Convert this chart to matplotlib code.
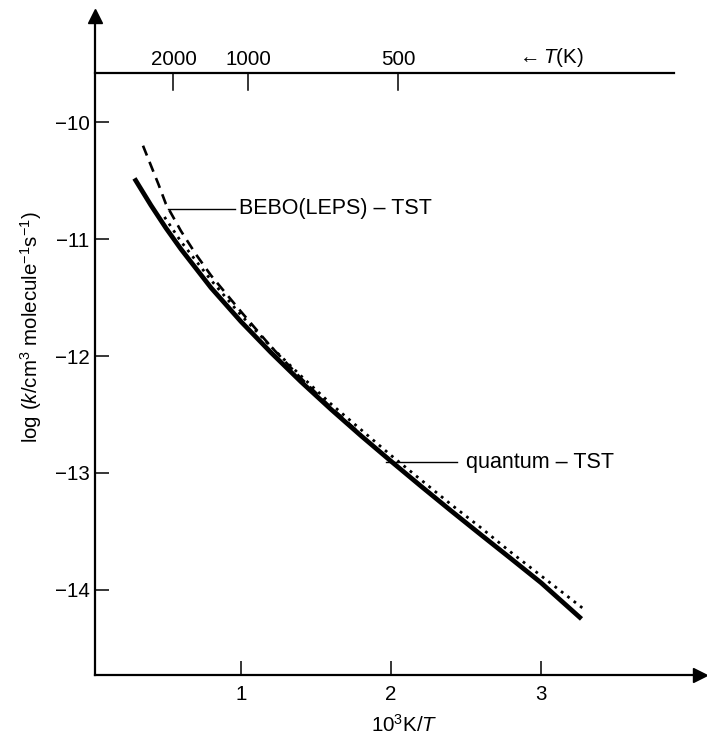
import numpy as np
import matplotlib.pyplot as plt

plt.rcParams['font.family'] = ['Liberation Sans', 'DejaVu Sans']
plt.rcParams['mathtext.fontset'] = 'custom'
plt.rcParams['mathtext.rm'] = 'Liberation Sans'
plt.rcParams['mathtext.it'] = 'Liberation Sans:italic'

# quantum - TST (solid)
x_quantum = [0.29, 0.4, 0.5, 0.6, 0.8, 1.0, 1.2, 1.4, 1.6, 1.8, 2.0,
             2.2, 2.4, 2.6, 2.8, 3.0, 3.27]
y_quantum = [-10.48, -10.71, -10.905, -11.085, -11.415, -11.705, -11.97,
             -12.22, -12.456, -12.682, -12.90, -13.114, -13.324, -13.53,
             -13.734, -13.94, -14.25]

# BEBO(LEPS) - TST (dashed)
x_bebo = [0.347, 0.4, 0.45, 0.5, 0.6, 0.7, 0.8, 1.0, 1.2, 1.4, 1.6, 1.8]
y_bebo = [-10.20, -10.37, -10.53, -10.70, -10.93, -11.13, -11.31, -11.62,
          -11.92, -12.19, -12.44, -12.67]

# dotted curve
x_dot = [0.49, 0.6, 0.8, 1.0, 1.2, 1.4, 1.6, 1.8, 2.0, 2.2, 2.4, 2.6,
         2.8, 3.0, 3.3]
y_dot = [-10.81, -11.02, -11.35, -11.65, -11.92, -12.17, -12.41, -12.63,
         -12.85, -13.06, -13.27, -13.47, -13.68, -13.88, -14.18]

x_ticks = [1, 2, 3]
y_ticks = [-10, -11, -12, -13, -14]
T_ticks = [2000, 1000, 500]

fs = 14.8
fs_lab = 15.5

fig = plt.figure(figsize=(7.07, 7.37), dpi=100)
ax = fig.add_axes([95 / 707, 62 / 737, 605 / 707, 659 / 737])
ax.set_xlim(0.027, 4.06)
ax.set_ylim(-14.73, -9.09)

for s in ['top', 'right']:
    ax.spines[s].set_visible(False)
for s in ['left', 'bottom']:
    ax.spines[s].set_linewidth(1.6)

# arrow heads
ax.plot(1, 0, marker='>', ms=10, color='k', transform=ax.transAxes, clip_on=False)
ax.plot(0, 1, marker='^', ms=10, color='k', transform=ax.transAxes, clip_on=False)

ax.set_xticks(x_ticks)
ax.set_yticks(y_ticks)
ax.tick_params(direction='in', length=10, width=1.1, labelsize=fs)
ax.tick_params(axis='x', pad=7)
ax.tick_params(axis='y', pad=4)

# curves
ax.plot(x_dot, y_dot, color='k', lw=2, linestyle=(0, (1, 1.9)), zorder=3)
ax.plot(x_bebo, y_bebo, color='k', lw=1.9, linestyle=(0, (4, 2.6)), zorder=3)
ax.plot(x_quantum, y_quantum, color='k', lw=3.4, solid_capstyle='butt', zorder=4)

# top temperature axis
y_top = -9.58
top_shift = 0.05
ax.plot([0.027, 3.89], [y_top, y_top], color='k', lw=1.6, clip_on=False)
for T in T_ticks:
    xt = 1000 / T + top_shift
    ax.plot([xt, xt], [y_top, y_top - 0.14], color='k', lw=1.1)
    ax.text(xt, y_top + 0.035, str(T), ha='center', va='bottom', fontsize=fs)
ax.text(3.06, y_top + 0.035, r'$\leftarrow$$T$(K)', ha='center', va='bottom', fontsize=fs)

# labels on curves
ax.plot([0.515, 0.96], [-10.74, -10.74], color='k', lw=1)
ax.text(0.99, -10.74, 'BEBO(LEPS) \u2013 TST', ha='left', va='center', fontsize=fs_lab)
ax.plot([1.97, 2.44], [-12.91, -12.91], color='k', lw=1)
ax.text(2.5, -12.91, 'quantum \u2013 TST', ha='left', va='center', fontsize=fs_lab)

ax.set_xlabel(r'10$^3$K/$T$', fontsize=fs)
ax.xaxis.set_label_coords(0.5115, -0.059)
ax.set_ylabel(r'log ($k$/cm$^3$ molecule$^{-1}$s$^{-1}$)', fontsize=fs)
ax.yaxis.set_label_coords(-0.084, 0.527)

fig.savefig('out.png', dpi=100)
